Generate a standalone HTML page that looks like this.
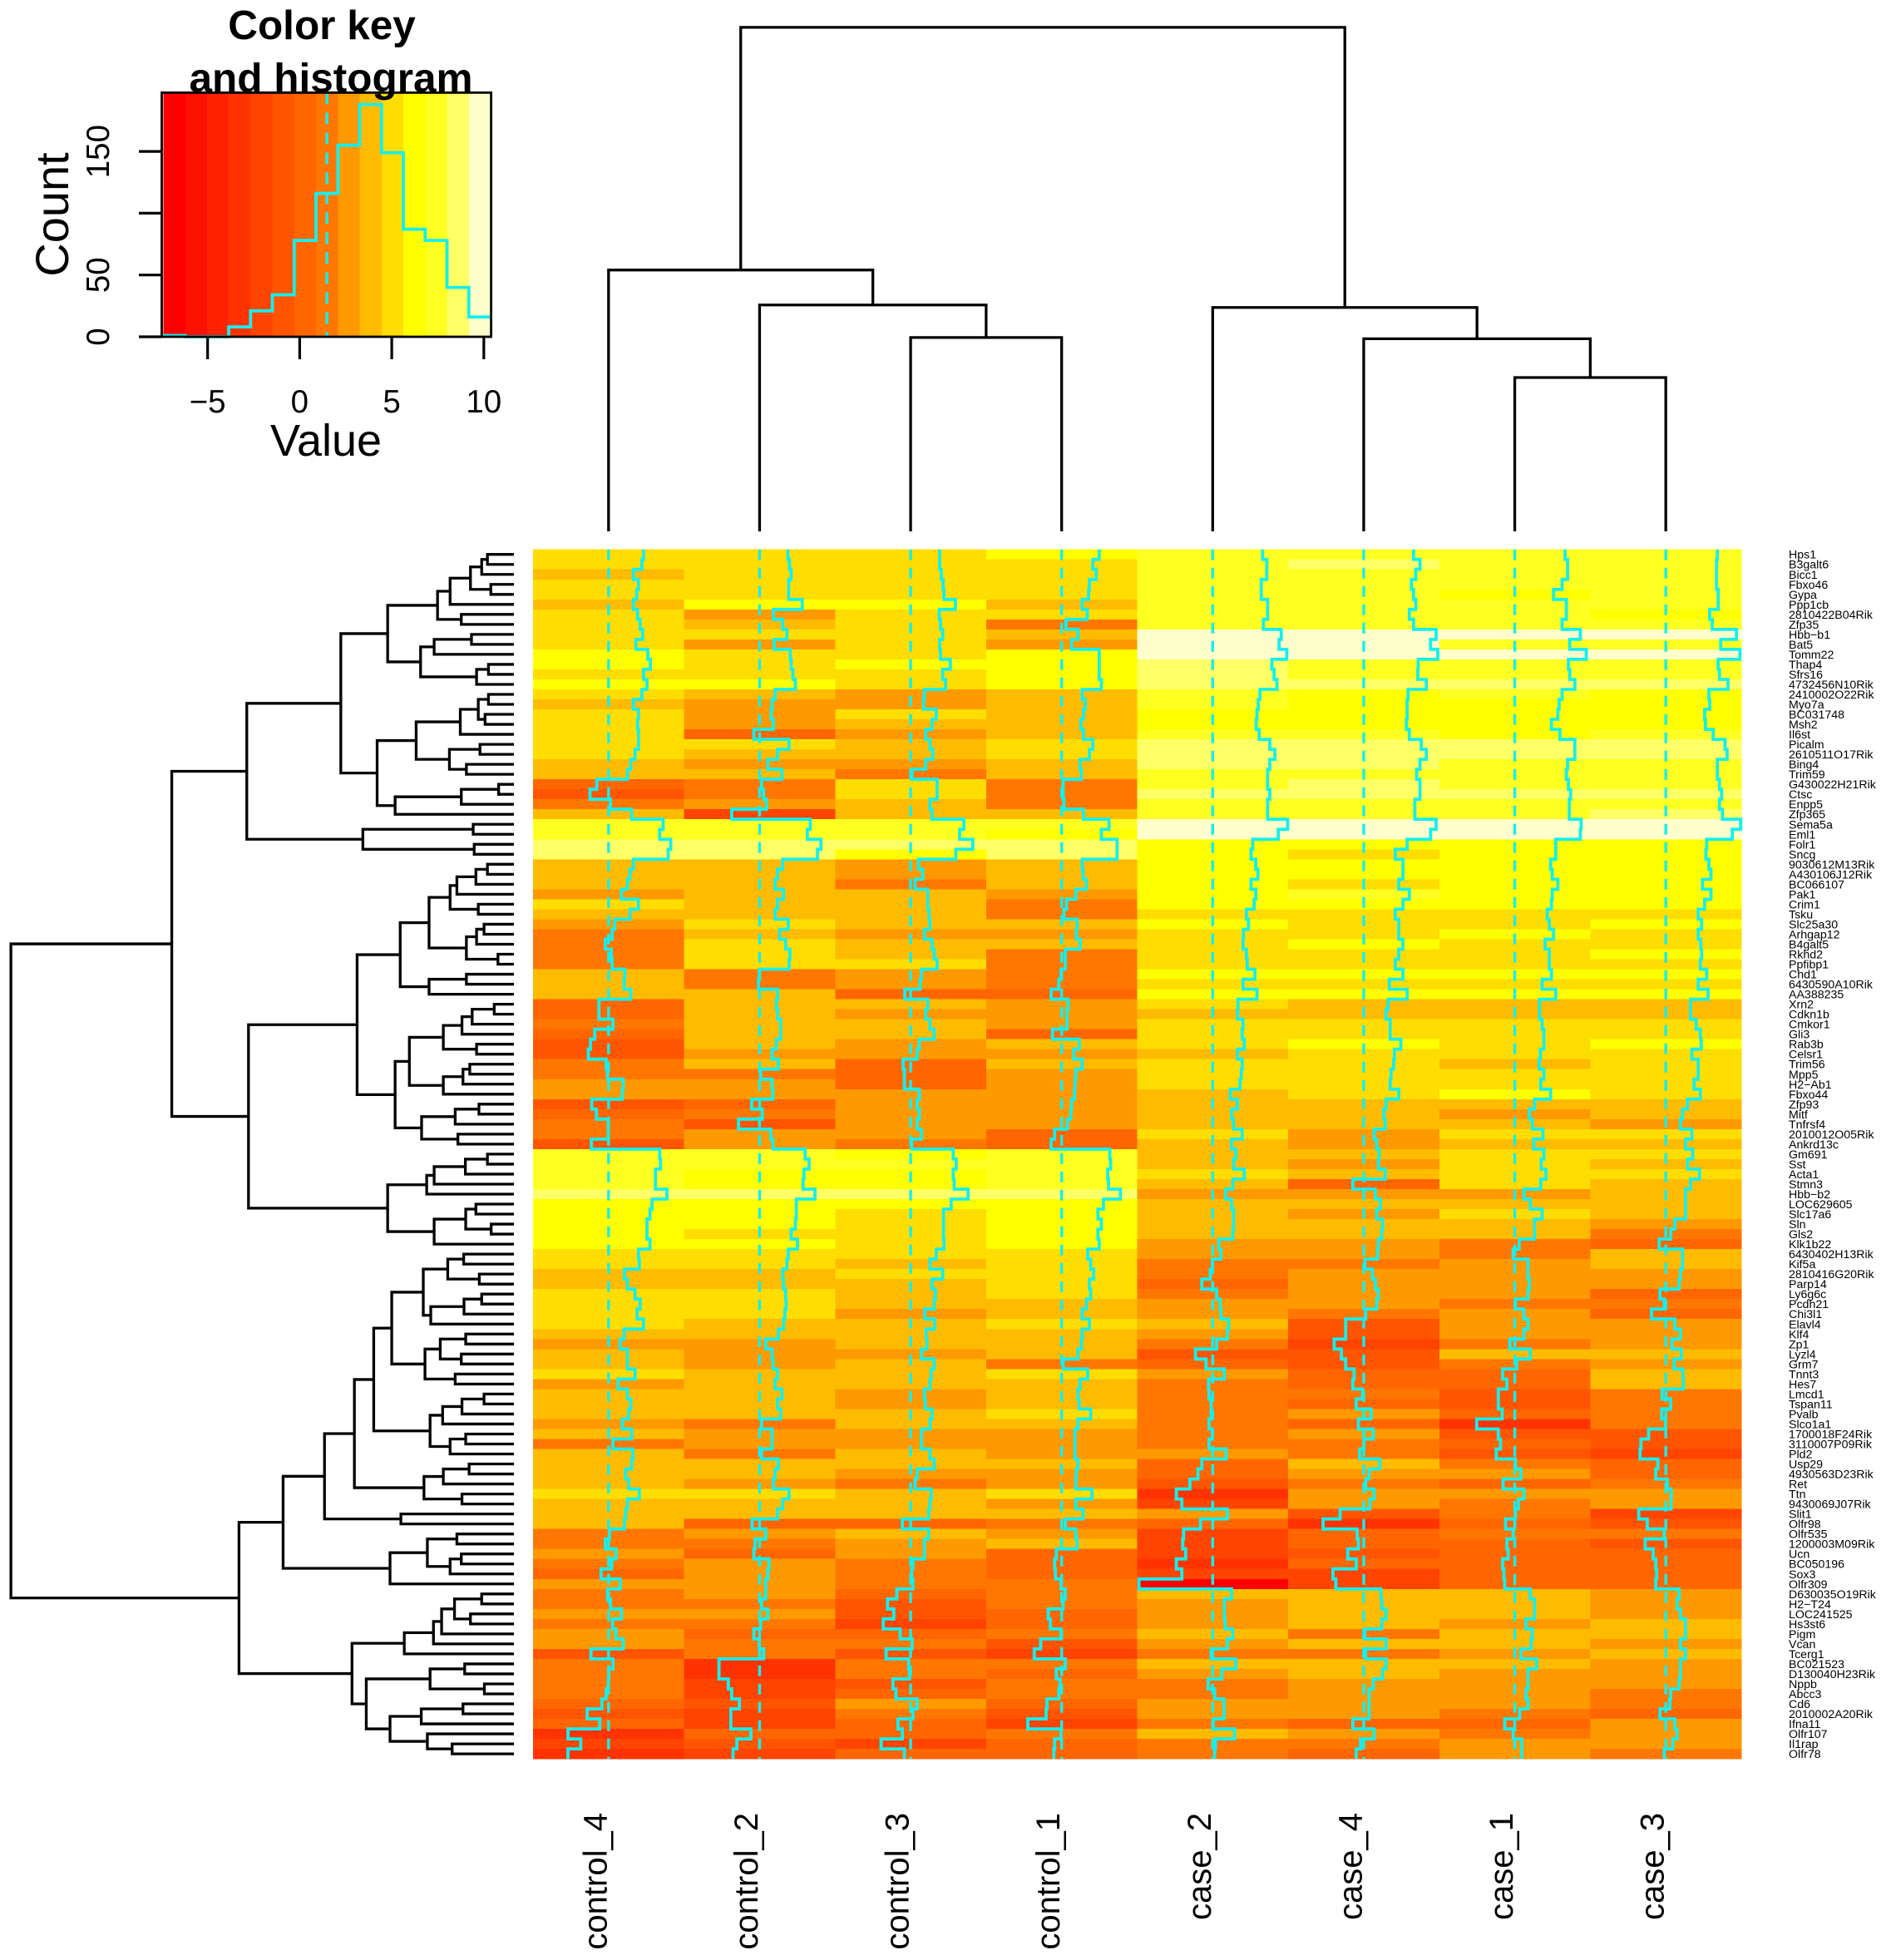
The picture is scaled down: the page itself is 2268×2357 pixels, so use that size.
<!DOCTYPE html>
<html lang="en">
<head>
<meta charset="utf-8">
<title>Heatmap with dendrograms and color key</title>
<style>
html,body{margin:0;padding:0;background:#fff;}
svg{display:block;}
text{font-family:"Liberation Sans",sans-serif;fill:#000;}
</style>
</head>
<body>
<svg id="chart" xmlns="http://www.w3.org/2000/svg" width="2268" height="2357" viewBox="0 0 2268 2357"></svg>
<script>
// ---- chart data ----
const samples = ["control_4","control_2","control_3","control_1","case_2","case_4","case_1","case_3"];
const genes = ["Hps1","B3galt6","Bicc1","Fbxo46","Gypa","Ppp1cb","2810422B04Rik","Zfp35","Hbb−b1","Bat5","Tomm22","Thap4","Sfrs16","4732456N10Rik","2410002O22Rik","Myo7a","BC031748","Msh2","Il6st","Picalm","2610511O17Rik","Bing4","Trim59","G430022H21Rik","Ctsc","Enpp5","Zfp365","Sema5a","Eml1","Folr1","Sncg","9030612M13Rik","A430106J12Rik","BC066107","Pak1","Crim1","Tsku","Slc25a30","Arhgap12","B4galt5","Rkhd2","Ppfibp1","Chd1","6430590A10Rik","AA388235","Xrn2","Cdkn1b","Cmkor1","Gli3","Rab3b","Celsr1","Trim56","Mpp5","H2−Ab1","Fbxo44","Zfp93","Mitf","Tnfrsf4","2010012O05Rik","Ankrd13c","Gm691","Sst","Acta1","Stmn3","Hbb−b2","LOC629605","Slc17a6","Sln","Gls2","Klk1b22","6430402H13Rik","Kif5a","2810416G20Rik","Parp14","Ly6g6c","Pcdh21","Chi3l1","Elavl4","Klf4","Zp1","Lyzl4","Grm7","Tnnt3","Hes7","Lmcd1","Tspan11","Pvalb","Slco1a1","1700018F24Rik","3110007P09Rik","Pld2","Usp29","4930563D23Rik","Ret","Ttn","9430069J07Rik","Slit1","Olfr98","Olfr535","1200003M09Rik","Ucn","BC050196","Sox3","Olfr309","D630035O19Rik","H2−T24","LOC241525","Hs3st6","Pigm","Vcan","Tcerg1","BC021523","D130040H23Rik","Nppb","Abcc3","Cd6","2010002A20Rik","Ifna11","Olfr107","Il1rap","Olfr78"];

const control4 = [5.6,5.4,4.4,5.0,4.8,4.4,4.9,5.2,5.5,4.7,
6.1,6.4,5.6,6.0,5.4,4.4,5.0,4.9,5.0,5.0,
4.6,4.1,3.7,0.1,-0.7,1.7,4.2,7.9,7.5,8.8,
8.5,4.4,4.0,3.7,3.0,5.0,4.0,2.2,1.9,1.1,
1.8,1.9,3.4,3.3,4.1,0.35,0.35,2.0,-0.15,-0.65,
-0.9,1.2,1.35,3.2,3.1,-0.5,0.05,1.45,1.45,-0.55,
7.5,7.6,7.0,7.0,8.35,6.6,6.35,6.0,6.0,6.35,
5.0,5.1,3.35,3.7,4.6,5.2,4.85,5.6,3.3,2.85,
3.7,3.7,4.6,2.6,3.7,4.1,3.85,3.1,4.2,2.0,
4.35,4.2,3.5,3.85,5.1,3.7,3.5,3.35,1.6,1.1,
2.35,1.85,0.6,2.85,1.35,1.7,3.0,1.95,2.35,3.2,
-0.6,2.0,1.5,1.45,1.2,0.7,-1.05,0.45,-3.3,-1.8,-3.3];

const control2 = [4.8,5.0,5.2,4.9,4.9,6.5,3.1,4.2,4.7,3.2,
5.1,5.2,5.4,5.7,3.3,2.95,2.85,3.1,0.8,4.95,
3.6,2.45,4.1,1.7,1.95,2.3,-1.8,7.45,7.1,8.7,
8.3,4.2,3.6,3.3,4.3,3.6,3.3,4.85,3.85,4.55,
5.05,4.95,1.45,1.35,3.6,3.45,3.6,3.95,3.95,3.45,
2.95,3.7,1.6,2.95,3.05,0.55,1.8,-1.0,2.8,3.05,
6.85,7.3,6.7,6.6,8.0,5.8,5.8,5.7,5.2,5.95,
4.85,4.7,4.2,4.3,4.55,4.6,4.45,4.3,3.7,2.2,
2.95,3.05,3.6,3.3,4.1,3.6,3.95,1.7,2.95,2.95,
1.7,3.7,3.3,3.1,4.95,4.2,3.6,0.6,2.2,0.95,
0.8,2.6,2.45,2.2,2.2,1.7,2.45,1.6,0.8,1.45,
1.95,-3.3,-3.3,-2.2,-1.8,-0.9,-1.9,-1.9,0.45,-1.2,-1.65];

const control3 = [4.9,4.9,5.1,5.3,5.4,6.75,4.85,5.0,5.25,4.9,
5.0,6.15,5.25,5.6,3.1,3.0,4.5,4.0,3.25,3.75,
4.1,3.25,1.65,4.6,4.6,3.75,4.0,7.75,7.25,8.8,
6.8,2.4,2.9,2.0,3.5,3.5,3.65,3.75,3.1,4.0,
4.25,4.6,2.75,2.6,0.8,3.5,3.25,3.75,4.25,2.5,
2.25,0.6,0.75,0.75,2.5,2.25,2.5,2.25,2.75,1.6,
6.5,6.85,6.5,6.6,8.25,6.25,5.35,5.35,5.35,5.4,
4.5,3.75,5.25,4.0,4.4,4.25,3.15,4.3,3.3,3.4,
2.75,4.25,3.9,3.75,3.1,3.2,4.0,3.75,2.75,2.75,
3.75,4.25,2.25,2.0,3.9,3.75,3.6,0.5,3.6,3.1,
3.1,1.75,1.6,1.75,-0.15,-1.25,-0.5,-1.75,0.25,1.65,
-1.4,1.25,1.35,-0.6,-0.25,2.25,1.75,0.0,0.5,-2.0,0.75];

const control1 = [5.9,5.15,5.55,4.75,4.65,3.9,4.5,2.0,3.4,2.65,
5.9,5.9,5.9,6.15,3.9,4.25,4.05,3.75,4.05,5.15,
4.75,3.65,3.8,1.65,1.65,1.75,4.05,7.05,6.15,8.0,
8.0,3.9,4.0,4.4,3.15,2.05,1.75,3.3,3.2,3.65,
1.9,1.9,1.4,1.15,0.25,2.25,2.1,2.1,0.4,3.55,
2.9,3.9,3.15,3.05,3.0,2.65,2.55,2.15,0.65,0.25,
7.15,7.25,6.9,7.0,8.4,6.4,5.75,6.15,5.75,5.9,
4.55,4.9,5.25,4.75,4.9,4.4,3.9,4.75,3.9,3.8,
3.4,1.65,4.55,3.65,3.4,3.55,4.9,3.4,3.05,3.05,
3.05,3.4,3.2,3.15,5.05,3.15,4.0,1.9,3.15,3.3,
0.85,0.65,0.75,1.4,1.9,1.65,-0.1,0.15,1.4,-1.0,
-1.75,1.9,0.85,1.3,1.15,-0.25,-0.35,-2.5,1.4,0.65,0.55];

const case2 = [7.35,7.85,7.85,7.2,7.2,7.95,7.95,7.45,9.55,9.3,
10.2,8.45,8.7,9.05,7.05,6.85,6.7,6.6,6.95,8.2,
8.8,8.2,7.95,7.95,8.2,7.95,7.95,10.3,9.2,6.2,
6.0,6.55,6.8,6.0,6.55,6.35,5.45,5.7,5.1,5.05,
5.45,5.55,6.45,5.05,6.7,4.45,4.4,5.05,4.95,5.2,
4.4,4.95,4.85,4.7,3.55,4.4,3.7,3.95,4.95,3.7,
4.2,3.95,5.2,3.85,3.0,3.7,3.95,3.95,3.85,2.2,
2.45,1.45,1.2,0.2,1.95,2.35,2.45,3.35,3.2,1.95,
-0.55,0.7,2.85,1.0,1.05,1.3,1.3,1.05,1.45,1.05,
3.05,0.2,-0.25,-1.2,-2.8,-2.15,3.2,0.05,-1.95,-2.05,
-1.7,-2.8,-2.15,-7.2,3.7,2.85,2.85,2.95,3.85,3.2,
1.3,4.2,2.55,0.95,1.7,2.8,2.8,1.55,4.05,1.8,1.7];

const case4 = [7.35,8.1,7.6,7.1,7.35,7.6,6.85,7.35,10.0,9.35,
10.2,7.9,7.85,8.85,6.7,6.6,6.6,6.5,6.85,8.25,
8.85,8.1,7.7,8.1,8.1,7.5,7.5,10.0,9.35,6.6,
5.2,6.1,6.1,5.6,6.85,6.1,5.2,5.6,5.6,6.1,
5.6,5.2,6.1,4.5,6.6,4.35,4.1,4.6,4.6,5.85,
5.1,5.0,4.7,4.6,5.6,4.1,3.85,4.0,2.7,3.0,
3.3,3.2,4.0,0.2,2.85,3.45,3.0,3.7,3.6,3.2,
3.1,1.6,2.5,2.85,3.2,3.0,1.7,-0.65,-0.65,-2.0,
-1.15,-0.65,0.35,0.2,1.35,0.6,2.35,0.85,2.6,1.5,
1.0,3.35,2.1,1.7,2.7,2.2,-1.3,-3.3,0.7,0.85,
-0.4,0.6,-2.15,-1.8,3.5,3.6,4.1,3.6,1.6,4.1,
1.7,4.1,3.7,2.6,2.1,2.1,2.1,0.2,2.7,1.1,0.6];

const case1 = [7.4,7.7,7.7,7.05,6.05,7.55,7.55,7.05,9.2,7.95,
9.9,7.8,7.95,8.55,7.05,6.7,6.55,5.8,6.8,8.55,
8.55,7.7,7.55,7.8,8.05,7.9,7.9,9.3,9.2,6.3,
6.3,5.7,5.9,6.55,5.9,5.8,5.3,5.55,6.05,5.05,
5.55,5.55,5.8,4.7,6.3,4.4,4.4,4.7,4.9,4.9,
4.5,4.35,4.9,4.55,5.7,3.8,3.2,3.55,4.8,3.7,
4.9,4.6,5.15,4.55,2.55,3.3,4.7,3.8,3.8,2.0,
1.3,3.05,3.05,3.2,3.05,1.55,2.55,3.05,2.55,0.9,
3.3,1.7,0.05,0.55,-0.45,-0.45,0.0,-3.0,-0.45,-0.2,
-0.7,1.55,2.2,0.1,2.55,1.9,1.55,0.4,1.3,0.55,
0.7,0.05,0.2,0.3,3.3,3.8,3.8,2.8,3.55,3.4,
2.2,4.05,3.05,3.05,2.8,3.05,2.05,0.3,1.3,2.3,2.3];

const case3 = [7.55,7.45,7.45,7.45,7.65,7.65,6.65,6.95,9.8,7.95,
10.2,7.65,7.8,8.8,6.55,6.65,6.05,6.15,7.05,8.45,
8.7,7.55,7.55,7.8,8.05,7.8,8.15,10.3,9.3,6.3,
6.2,6.55,6.8,5.8,6.8,6.05,5.3,5.7,5.3,5.6,
5.7,5.55,6.3,5.3,6.45,4.4,4.4,5.05,5.55,5.65,
4.55,5.3,5.3,4.8,5.55,4.05,3.45,3.2,4.55,3.8,
4.65,4.05,5.45,4.4,3.8,3.8,3.8,2.55,2.05,0.7,
3.45,3.45,3.2,3.05,0.8,1.3,-0.2,2.55,3.2,2.2,
3.3,2.45,3.5,3.55,1.05,2.05,1.0,1.45,-0.55,-1.45,
-1.55,0.55,0.3,1.65,2.1,2.1,-1.7,-0.7,1.3,-0.95,
0.0,0.3,0.4,0.3,3.05,2.8,3.2,3.8,3.8,3.2,
3.8,3.2,3.2,3.05,2.05,1.95,0.8,2.55,2.8,2.3,1.3];

const sampleValues = [control4,control2,control3,control1,case2,case4,case1,case3];

const palette = ["#FF0000","#FF1100","#FF2200","#FF3300","#FF4400","#FF5500","#FF6600","#FF7700","#FF9900","#FFBB00","#FFDD00","#FFFF00","#FFFF22","#FFFF66","#FFFFCC"];
const valueMin = -7.41;
const valueMax = 10.37;
const centerValue = 1.48;
const histCounts = [1,0,0,8,21,34,78,116,155,188,149,87,78,40,16];
const keyXTicks = [-5,0,5,10];
const keyYTicks = [0,50,100,150];
const keyYTickLabels = ["0","50","","150"];

// dendrograms: node = [merge height, left, right]; 0 = leaf
const rowTree = [148.2,
 [100.8,
  [78.7,
   [51.0,
    [37.2,
     [22.5,[18.8,[12.8,[9.5,[7.8,0,0],0],[6.8,0,0]],0],[15.5,0,0]],
     [27.5,[23.5,[12.5,0,0],0],[11,[7.5,0,0],0]]],
    [40.3,
     [28.8,[15.8,[10.5,[7.5,0,0],[8.5,0,0]],0],[19,[10,0,0],[14,0,0]]],
     [35,[15.5,[4.5,0,0],0],0]]],
   [44.5,[12,0,0],[11.7,0,0]]],
  [78.2,
   [46.2,
    [33.5,
     [25,
      [18.8,[16.8,[11.2,[7.8,0,0],0],0],[10.5,0,0]],
      [14,[11,[8.8,0,0],0],[4.7,0,0]]],
     [25,[14,0,0],0]],
    [35,
     [30.8,
      [20.8,[15.3,[12.3,[5.8,0,0],0],0],[11,0,0]],
      [20.8,[15,[13,0,0],0],0]],
     [27.2,[17.3,[10.3,0,0],0],[16.5,0,0]]]],
   [37.2,
    [25.7,[23.5,[14.3,[7.8,0,0],0],0],0],
    [23.5,[14.2,[11.2,0,0],[6.7,0,0]],0]]]],
 [81,
  [68,
   [55.8,
    [47,
     [41.3,
      [36,
       [26.7,[19.5,[14.8,0,0],[10.2,0,0]],[24.5,[14.7,[9.5,0,0],0],0]],
       [26.2,[21.7,[14.2,0,0],[15.5,0,0]],[17.3,0,0]]],
      [24.7,[21,[15.3,[8.8,0,0],0],0],[18.8,[14.2,0,0],0]]],
     [26.5,[20.8,[13.2,0,0],0],[15.3,0,0]]],
    [33.3,0,0]],
   [36.5,[25.5,[16.8,0,0],[18.8,[15.5,0,0],0]],0]],
  [47.7,
   [32.3,[23.7,[21.3,[17.5,[9.5,0,0],[12.8,0,0]],0],0],0],
   [43.5,
    [24.7,[14.5,0,0],[8.7,0,0]],
    [36.5,[27.3,[15,0,0],0],[25.5,0,[18.2,0,0]]]]]]];

const colTree = [403,[209,0,[181,0,[155,0,0]]],[179,0,[154,0,[123,0,0]]]];

// ---- layout ----
const SVGNS = "http://www.w3.org/2000/svg";
const svg = document.getElementById("chart");
const CYAN = "#15EFEF";
const heat = {left:641, top:660.7, colW:181.625, rowH:12.02};
const key = {left:196.3, right:590, top:111.4, bottom:405};

function make(tag, attrs, parent){
  const el = document.createElementNS(SVGNS, tag);
  for (const k in attrs) el.setAttribute(k, attrs[k]);
  (parent || svg).appendChild(el);
  return el;
}
function rowTop(r){ return heat.top + r*heat.rowH; }
function rowMid(r){ return rowTop(r) + heat.rowH/2; }
function colLeft(c){ return heat.left + c*heat.colW; }
function colMid(c){ return colLeft(c) + heat.colW/2; }
function frac(v){ return (v-valueMin)/(valueMax-valueMin); }
function bin(v){ return Math.max(0, Math.min(palette.length-1, Math.floor(frac(v)*palette.length))); }
function keyX(v){ return key.left + frac(v)*(key.right-key.left); }
function keyY(n){ return key.bottom - n*1.486; }
function rowDendroX(h){ return 618 - h*4.0816; }
function colDendroY(h){ return 639 - h*1.504; }

// ---- heatmap cells ----
const heatGroup = make("g", {"shape-rendering":"crispEdges"});


sampleValues.forEach(function(vals, c){
  vals.forEach(function(v, r){
    const cell = make("rect", {x:colLeft(c), y:rowTop(r), width:heat.colW+0.6, height:heat.rowH+0.6, fill:palette[bin(v)]}, heatGroup);
    
    
  });
});

// ---- traces and centre lines ----
sampleValues.forEach(function(vals, c){
  const cx = colMid(c);
  const dash = make("line", {x1:cx, x2:cx, y1:heat.top, y2:rowTop(vals.length), stroke:CYAN, "stroke-width":3.4, "stroke-dasharray":"13 9"});
  
  
  let d = "";
  vals.forEach(function(v, r){
    const x = colLeft(c) + frac(v)*heat.colW;
    d += (r === 0 ? "M" + x.toFixed(1) + " " + rowTop(0).toFixed(1) : "H" + x.toFixed(1));
    d += "V" + rowTop(r+1).toFixed(1);
  });
  const trace = make("path", {d:d, fill:"none", stroke:CYAN, "stroke-width":3.8, "stroke-linejoin":"miter"});
  
  
});

// ---- row labels ----
genes.forEach(function(g, r){
  const t = make("text", {x:2151, y:rowMid(r)+5, "font-size":14.2});
  t.textContent = g;
  
  
});

// ---- column labels ----
samples.forEach(function(s, c){
  const x = colMid(c)-2.5;
  const y = 2180;
  const t = make("text", {x:x, y:y, "font-size":40, "text-anchor":"end", transform:"rotate(-90 "+x+" "+y+")"});
  t.textContent = s;
  
  
});

// ---- dendrograms ----
function drawDendro(tree, leafPos, heightPos, horizontal, groupName){
  const g = make("g", {fill:"none", stroke:"#000", "stroke-width":3.3});
  
  
  let leaf = 0;
  function walk(node){
    if (node === 0){
      return {p:leafPos(leaf++), h:0};
    }
    const a = walk(node[1]);
    const b = walk(node[2]);
    const hp = heightPos(node[0]);
    const ha = heightPos(a.h);
    const hb = heightPos(b.h);
    const d = horizontal
      ? "M"+ha+" "+a.p+"H"+hp+"V"+b.p+"H"+hb
      : "M"+a.p+" "+ha+"V"+hp+"H"+b.p+"V"+hb;
    const seg = make("path", {d:d}, g);
    
    
    return {p:(a.p+b.p)/2, h:node[0]};
  }
  walk(tree);
}
drawDendro(rowTree, rowMid, rowDendroX, true, 'row-dendrogram');
drawDendro(colTree, colMid, colDendroY, false, 'column-dendrogram');

// ---- color key ----
const binW = (key.right-key.left)/palette.length;
palette.forEach(function(col, i){
  const r = make("rect", {x:key.left+i*binW, y:key.top, width:binW+0.5, height:key.bottom-key.top, fill:col, "shape-rendering":"crispEdges"});
  
  
});
const keyDash = make("line", {x1:keyX(centerValue), x2:keyX(centerValue), y1:key.top, y2:key.bottom, stroke:CYAN, "stroke-width":3.4, "stroke-dasharray":"14 10"});


let histD = "M"+key.left+" "+keyY(0);
histCounts.forEach(function(n, i){
  histD += "V"+keyY(n).toFixed(1)+"H"+(key.left+(i+1)*binW).toFixed(1);
});
const histLine = make("path", {d:histD, fill:"none", stroke:CYAN, "stroke-width":3.8});


const keyBox = make("rect", {x:194.5, y:key.top, width:key.right+0.6-194.5, height:key.bottom-key.top, fill:"none", stroke:"#000", "stroke-width":2.8});



keyXTicks.forEach(function(v){
  const x = keyX(v);
  const tick = make("line", {x1:x, x2:x, y1:key.bottom, y2:432, stroke:"#000", "stroke-width":3.2});
  
  
  const t = make("text", {x:x, y:496, "font-size":38.5, "text-anchor":"middle"});
  t.textContent = v < 0 ? "\u2212" + Math.abs(v) : String(v);
  
  
});
keyYTicks.forEach(function(n, i){
  const y = keyY(n);
  const tick = make("line", {x1:167, x2:194, y1:y, y2:y, stroke:"#000", "stroke-width":3.2});
  
  
  if (keyYTickLabels[i]){
    const t = make("text", {x:131, y:y, "font-size":38.5, "text-anchor":"middle", transform:"rotate(-90 131 "+y+")"});
    t.textContent = keyYTickLabels[i];
    
    
  }
});

const yTitle = make("text", {x:82, y:258, "font-size":56, "text-anchor":"middle", transform:"rotate(-90 82 258)"});
yTitle.textContent = "Count";


const xTitle = make("text", {x:392, y:548, "font-size":54, "text-anchor":"middle"});
xTitle.textContent = "Value";


const title1 = make("text", {x:387, y:47, "font-size":49.5, "font-weight":"bold", "text-anchor":"middle"});
title1.textContent = "Color key";


const title2 = make("text", {x:398, y:110.5, "font-size":49.5, "font-weight":"bold", "text-anchor":"middle"});
title2.textContent = "and histogram";


</script>
</body>
</html>
